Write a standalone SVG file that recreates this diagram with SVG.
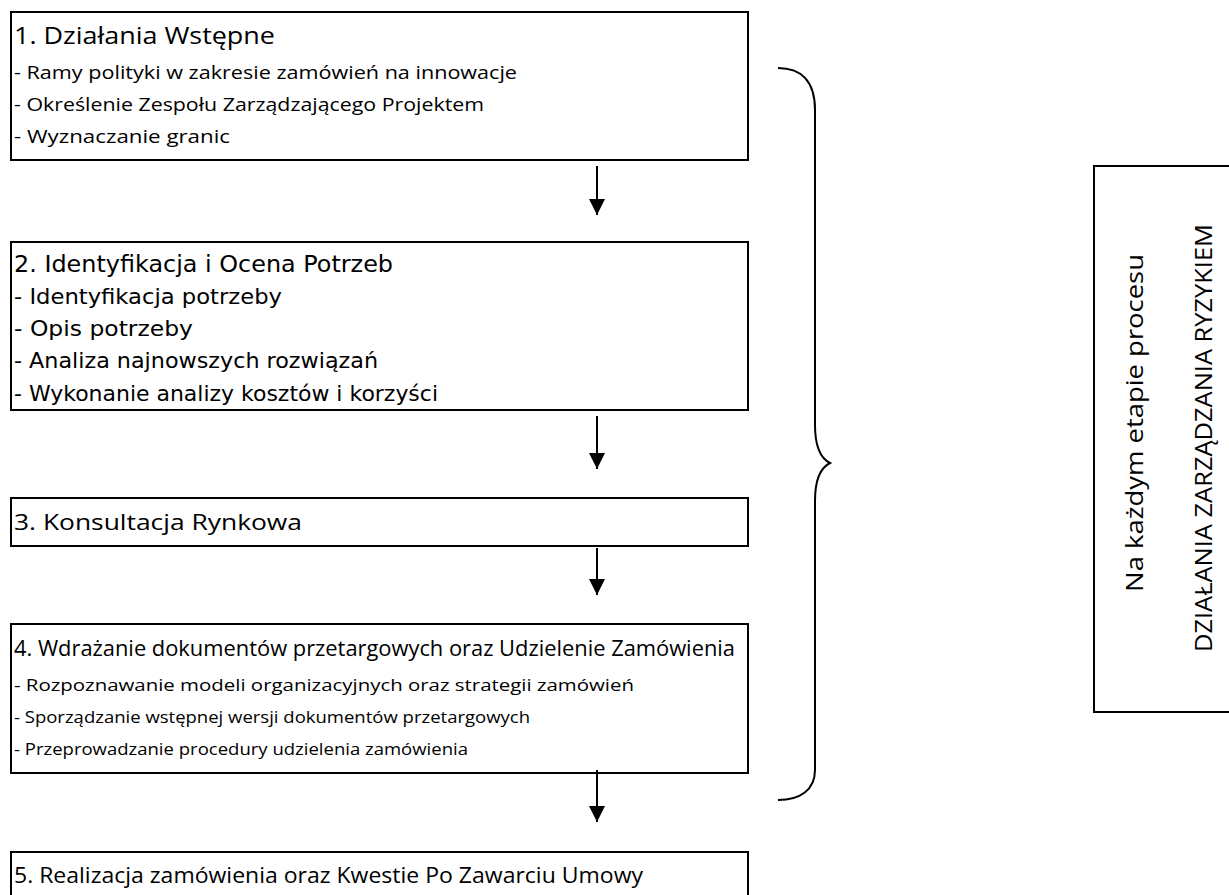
<svg xmlns="http://www.w3.org/2000/svg" width="1229" height="895" viewBox="0 0 1229 895">
<style>
.box{fill:#fff;stroke:#000;stroke-width:2}
.c{font-family:"Open Sans","Liberation Sans",sans-serif;fill:#000}
.t{font-family:"DejaVu Sans","Liberation Sans",sans-serif;fill:#000}
.con{stroke:#000;stroke-width:2;fill:none}
</style>
<defs>
<marker id="ah" markerWidth="8" markerHeight="8" refX="8" refY="4" orient="auto" markerUnits="strokeWidth">
<path d="M0,0 L8,4 L0,8 Z" fill="#000"/>
</marker>
</defs>
<rect width="1229" height="895" fill="#fff"/>
<g id="n1">
<rect class="box" x="11" y="12" width="737" height="148"/>
<text class="c" x="14" y="44" font-size="23" textLength="261" lengthAdjust="spacingAndGlyphs">1. Działania Wstępne</text>
<text class="c" x="14" y="79" font-size="18" textLength="503" lengthAdjust="spacingAndGlyphs">- Ramy polityki w zakresie zamówień na innowacje</text>
<text class="c" x="14" y="111" font-size="18" textLength="470" lengthAdjust="spacingAndGlyphs">- Określenie Zespołu Zarządzającego Projektem</text>
<text class="c" x="14" y="143" font-size="18" textLength="216" lengthAdjust="spacingAndGlyphs">- Wyznaczanie granic</text>
</g>
<g id="n2">
<rect class="box" x="11" y="242" width="737" height="168"/>
<text class="t" x="14" y="272" font-size="23" textLength="379" lengthAdjust="spacingAndGlyphs">2. Identyfikacja i Ocena Potrzeb</text>
<text class="t" x="14" y="304" font-size="21" textLength="268" lengthAdjust="spacingAndGlyphs">- Identyfikacja potrzeby</text>
<text class="t" x="14" y="336" font-size="21" textLength="179" lengthAdjust="spacingAndGlyphs">- Opis potrzeby</text>
<text class="t" x="14" y="368" font-size="21" textLength="364" lengthAdjust="spacingAndGlyphs">- Analiza najnowszych rozwiązań</text>
<text class="t" x="14" y="401" font-size="21" textLength="424" lengthAdjust="spacingAndGlyphs">- Wykonanie analizy kosztów i korzyści</text>
</g>
<g id="n3">
<rect class="box" x="11" y="498" width="737" height="48"/>
<text class="c" x="14" y="530" font-size="22" textLength="288" lengthAdjust="spacingAndGlyphs">3. Konsultacja Rynkowa</text>
</g>
<g id="n4">
<rect class="box" x="11" y="624" width="737" height="149"/>
<text class="c" x="14" y="656" font-size="22" textLength="721" lengthAdjust="spacingAndGlyphs">4. Wdrażanie dokumentów przetargowych oraz Udzielenie Zamówienia</text>
<text class="c" x="14" y="691" font-size="17" textLength="620" lengthAdjust="spacingAndGlyphs">- Rozpoznawanie modeli organizacyjnych oraz strategii zamówień</text>
<text class="c" x="14" y="723" font-size="17" textLength="516" lengthAdjust="spacingAndGlyphs">- Sporządzanie wstępnej wersji dokumentów przetargowych</text>
<text class="c" x="14" y="755" font-size="17" textLength="454" lengthAdjust="spacingAndGlyphs">- Przeprowadzanie procedury udzielenia zamówienia</text>
</g>
<g id="n5">
<rect class="box" x="11" y="852" width="737" height="60"/>
<text class="c" x="14" y="883" font-size="22" textLength="629" lengthAdjust="spacingAndGlyphs">5. Realizacja zamówienia oraz Kwestie Po Zawarciu Umowy</text>
</g>
<g id="n6">
<rect class="box" x="1094" y="166" width="150" height="546"/>
<text class="c" transform="translate(1143,592) rotate(-90)" font-size="24" textLength="338" lengthAdjust="spacingAndGlyphs">Na każdym etapie procesu</text>
<text class="c" transform="translate(1212,652) rotate(-90)" font-size="23" textLength="428" lengthAdjust="spacingAndGlyphs">DZIAŁANIA ZARZĄDZANIA RYZYKIEM</text>
</g>
<g id="connectors">
<line class="con" x1="597" y1="166" x2="597" y2="215" marker-end="url(#ah)"/>
<line class="con" x1="597" y1="416" x2="597" y2="469" marker-end="url(#ah)"/>
<line class="con" x1="597" y1="548" x2="597" y2="595" marker-end="url(#ah)"/>
<line class="con" x1="597" y1="770" x2="597" y2="822" marker-end="url(#ah)"/>
<path class="con" d="M778,68 C800,68 815,80 815,110 L815,425 C815,445 820,458 830,463 C820,468 815,481 815,501 L815,770 C815,790 800,800 778,800"/>
</g>
</svg>
